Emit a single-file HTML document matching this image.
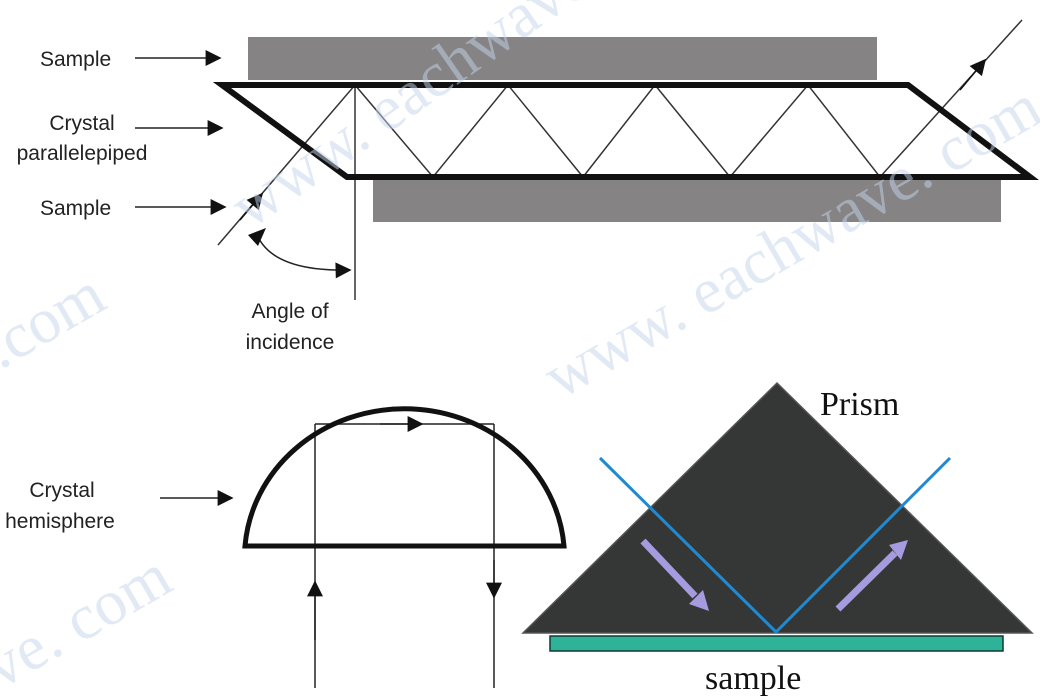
<!DOCTYPE html>
<html><head><meta charset="utf-8"><style>
html,body{margin:0;padding:0;background:#fff;}
svg{display:block}
.s{font-family:"Liberation Sans",sans-serif;font-size:21px;fill:#222}
.r{font-family:"Liberation Serif",serif;font-size:34px;fill:#111}
.w{font-family:"Liberation Serif",serif;font-size:64px;fill:#c4d5ec;opacity:.5}
</style></head><body>
<svg width="1040" height="696" viewBox="0 0 1040 696" xmlns="http://www.w3.org/2000/svg">
<defs>
<marker id="b" viewBox="0 0 10 10" refX="9" refY="5" markerWidth="22" markerHeight="16" markerUnits="userSpaceOnUse" orient="auto"><path d="M0,0 L10,5 L0,10 z" fill="#111"/></marker>
</defs>
<rect x="248" y="37" width="629" height="43" fill="#858384"/>
<rect x="373" y="180" width="628" height="42" fill="#858384"/>
<g stroke="#333" stroke-width="1.5" fill="none">
<polyline points="218,245 355,85 433,177 508,85 583,177 655,85 730,177 808,85 880,177 1022,20"/>
<line x1="355" y1="85" x2="355" y2="300"/>
</g>
<line x1="240" y1="220" x2="262" y2="194" stroke="#111" stroke-width="1.5" marker-end="url(#b)"/>
<line x1="960" y1="90" x2="985" y2="60" stroke="#111" stroke-width="1.5" marker-end="url(#b)"/>
<path d="M256,232 Q270,272 350,270" stroke="#222" stroke-width="1.5" fill="none" marker-end="url(#b)"/>
<path d="M248,235 L266,228 L258,246 z" fill="#111"/>
<polygon points="222,85 908,85 1030,177 347,177" fill="none" stroke="#111" stroke-width="6" stroke-linejoin="miter"/>
<g stroke="#222" stroke-width="1.5">
<line x1="135" y1="58" x2="220" y2="58" marker-end="url(#b)"/>
<line x1="135" y1="128" x2="222" y2="128" marker-end="url(#b)"/>
<line x1="135" y1="207" x2="225" y2="207" marker-end="url(#b)"/>
<line x1="160" y1="498" x2="232" y2="498" marker-end="url(#b)"/>
</g>
<text class="s" x="40" y="66">Sample</text>
<text class="s" x="82" y="130" text-anchor="middle">Crystal</text>
<text class="s" x="82" y="160" text-anchor="middle">parallelepiped</text>
<text class="s" x="40" y="215">Sample</text>
<text class="s" x="290" y="318" text-anchor="middle">Angle of</text>
<text class="s" x="290" y="349" text-anchor="middle">incidence</text>
<text class="s" x="62" y="497" text-anchor="middle">Crystal</text>
<text class="s" x="60" y="528" text-anchor="middle">hemisphere</text>
<g stroke="#222" stroke-width="1.5" fill="none">
<line x1="315" y1="688" x2="315" y2="424"/>
<line x1="315" y1="424" x2="494" y2="424"/>
<line x1="494" y1="424" x2="494" y2="688"/>
<line x1="315" y1="640" x2="315" y2="582" marker-end="url(#b)"/>
<line x1="494" y1="560" x2="494" y2="597" marker-end="url(#b)"/>
<line x1="380" y1="424" x2="422" y2="424" marker-end="url(#b)"/>
</g>
<path d="M245,546 A160,149 0 0 1 564,546 Z" fill="none" stroke="#111" stroke-width="5"/>
<rect x="550" y="636" width="453" height="15" fill="#2fb398" stroke="#0e3b33" stroke-width="1.5"/>
<polygon points="777,383 1032,633 523,633" fill="#353736" stroke="#555" stroke-width="1.5"/>
<polyline points="600,458 776,632 950,458" fill="none" stroke="#1f8ad4" stroke-width="3"/>
<g stroke="#a79be0" stroke-width="7"><line x1="643" y1="541" x2="695" y2="596"/><line x1="838" y1="609" x2="895" y2="553"/></g>
<polygon points="689,604 709,611 703,590" fill="#a79be0"/>
<polygon points="889,545 908,540 901,560" fill="#a79be0"/>
<text class="r" x="820" y="415">Prism</text>
<text class="r" x="705" y="689">sample</text>
<text class="w" transform="translate(250,230) rotate(-35)">www. eachwave.</text>
<text class="w" transform="translate(560,400) rotate(-30)">www. eachwave. com</text>
<text class="w" transform="translate(0,370) rotate(-30)">.com</text>
<text class="w" transform="translate(0,690) rotate(-30)">ve. com</text>
</svg>
</body></html>
